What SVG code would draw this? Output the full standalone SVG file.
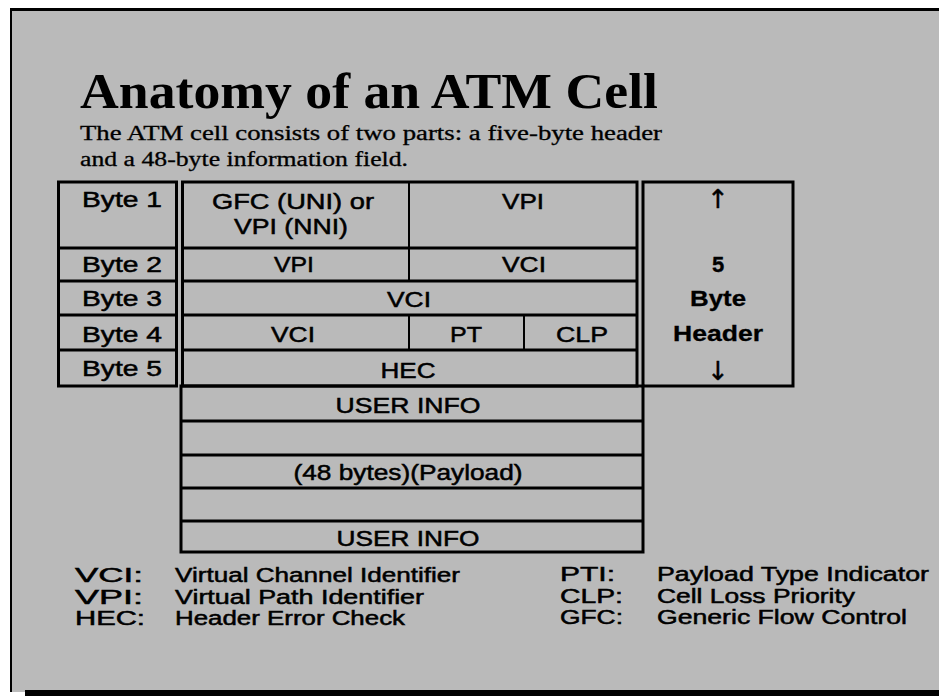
<svg xmlns="http://www.w3.org/2000/svg" width="939" height="696" viewBox="0 0 939 696">
<style>
.box{fill:none;stroke:#000;stroke-width:3}
.ln{stroke:#000;stroke-width:3}
.vl{stroke:#000;stroke-width:2}
.t{font-family:"Liberation Sans",Arial,sans-serif;font-size:22px;fill:#000;stroke:#000;stroke-width:0.5;text-anchor:middle}
.s{text-anchor:start}
.b{font-weight:bold;stroke-width:0.3}
.lg{font-family:"Liberation Sans",Arial,sans-serif;font-size:20px;fill:#000;stroke:#000;stroke-width:0.5}
.ti{font-family:"Liberation Serif","Times New Roman",serif;font-weight:bold;font-size:50px;fill:#000}
.sub{font-family:"Liberation Serif","Times New Roman",serif;font-size:20px;fill:#000;stroke:#000;stroke-width:0.3}
.ar{font-family:"DejaVu Sans",sans-serif;font-size:26px;fill:#000;stroke:#000;stroke-width:0.4;text-anchor:middle}
</style>
<rect width="939" height="696" fill="#fff"/>
<g id="frame">
<rect x="10" y="8" width="929" height="684" fill="#bababa"/>
<line x1="10" y1="9.5" x2="939" y2="9.5" class="ln"/>
<line x1="11" y1="8" x2="11" y2="692" class="vl"/>
<rect x="25" y="690" width="914" height="6" fill="#000"/>
</g>
<g id="title">
<text class="ti" x="80" y="108" textLength="578" lengthAdjust="spacingAndGlyphs">Anatomy of an ATM Cell</text>
<text class="sub" x="80" y="140" textLength="582" lengthAdjust="spacingAndGlyphs">The ATM cell consists of two parts: a five-byte header</text>
<text class="sub" x="80" y="166" textLength="328" lengthAdjust="spacingAndGlyphs">and a 48-byte information field.</text>
</g>
<g id="byte-column">
<rect x="58.5" y="182" width="118" height="204" class="box"/>
<line x1="58" y1="248" x2="176" y2="248" class="ln"/>
<line x1="58" y1="281" x2="176" y2="281" class="ln"/>
<line x1="58" y1="315" x2="176" y2="315" class="ln"/>
<line x1="58" y1="350" x2="176" y2="350" class="ln"/>
<text class="t s" x="82" y="207" textLength="80" lengthAdjust="spacingAndGlyphs">Byte 1</text>
<text class="t s" x="82" y="272" textLength="80" lengthAdjust="spacingAndGlyphs">Byte 2</text>
<text class="t s" x="82" y="306" textLength="80" lengthAdjust="spacingAndGlyphs">Byte 3</text>
<text class="t s" x="82" y="342" textLength="80" lengthAdjust="spacingAndGlyphs">Byte 4</text>
<text class="t s" x="82" y="376" textLength="80" lengthAdjust="spacingAndGlyphs">Byte 5</text>
</g>
<g id="header-fields">
<rect x="182.5" y="182" width="454.5" height="204" class="box"/>
<line x1="182" y1="248" x2="637" y2="248" class="ln"/>
<line x1="182" y1="281" x2="637" y2="281" class="ln"/>
<line x1="182" y1="315" x2="637" y2="315" class="ln"/>
<line x1="182" y1="350" x2="637" y2="350" class="ln"/>
<line x1="409" y1="182" x2="409" y2="281" class="vl"/>
<line x1="409" y1="315" x2="409" y2="350" class="vl"/>
<line x1="524" y1="315" x2="524" y2="350" class="vl"/>
<text class="t" x="293" y="209" textLength="162" lengthAdjust="spacingAndGlyphs">GFC (UNI) or</text>
<text class="t" x="291" y="234" textLength="114" lengthAdjust="spacingAndGlyphs">VPI (NNI)</text>
<text class="t" x="523" y="209" textLength="42" lengthAdjust="spacingAndGlyphs">VPI</text>
<text class="t" x="294" y="272" textLength="40" lengthAdjust="spacingAndGlyphs">VPI</text>
<text class="t" x="524" y="272" textLength="44" lengthAdjust="spacingAndGlyphs">VCI</text>
<text class="t" x="409" y="307" textLength="44" lengthAdjust="spacingAndGlyphs">VCI</text>
<text class="t" x="293" y="342" textLength="44" lengthAdjust="spacingAndGlyphs">VCI</text>
<text class="t" x="466" y="342" textLength="32" lengthAdjust="spacingAndGlyphs">PT</text>
<text class="t" x="582" y="342" textLength="52" lengthAdjust="spacingAndGlyphs">CLP</text>
<text class="t" x="408" y="378" textLength="55" lengthAdjust="spacingAndGlyphs">HEC</text>
</g>
<g id="header-label">
<rect x="643" y="182" width="150" height="204" class="box"/>
<text class="ar" x="718" y="208">↑</text>
<text class="t b" x="718" y="272">5</text>
<text class="t b" x="718" y="306" textLength="56" lengthAdjust="spacingAndGlyphs">Byte</text>
<text class="t b" x="718" y="341" textLength="90" lengthAdjust="spacingAndGlyphs">Header</text>
<text class="ar" x="718" y="380">↓</text>
</g>
<g id="payload">
<rect x="181" y="386" width="462" height="166" class="box"/>
<line x1="181" y1="421" x2="643" y2="421" class="ln"/>
<line x1="181" y1="455" x2="643" y2="455" class="ln"/>
<line x1="181" y1="488" x2="643" y2="488" class="ln"/>
<line x1="181" y1="521" x2="643" y2="521" class="ln"/>
<text class="t" x="408" y="413" textLength="145" lengthAdjust="spacingAndGlyphs">USER INFO</text>
<text class="t" x="408" y="480" textLength="229" lengthAdjust="spacingAndGlyphs">(48 bytes)(Payload)</text>
<text class="t" x="408" y="546" textLength="143" lengthAdjust="spacingAndGlyphs">USER INFO</text>
</g>
<g id="connectors"></g>
<g id="legend">
<text class="lg" x="75" y="582" textLength="68" lengthAdjust="spacingAndGlyphs">VCI:</text>
<text class="lg" x="175" y="582" textLength="285" lengthAdjust="spacingAndGlyphs">Virtual Channel Identifier</text>
<text class="lg" x="75" y="604" textLength="68" lengthAdjust="spacingAndGlyphs">VPI:</text>
<text class="lg" x="175" y="604" textLength="249" lengthAdjust="spacingAndGlyphs">Virtual Path Identifier</text>
<text class="lg" x="75" y="625" textLength="70" lengthAdjust="spacingAndGlyphs">HEC:</text>
<text class="lg" x="175" y="625" textLength="230" lengthAdjust="spacingAndGlyphs">Header Error Check</text>
<text class="lg" x="560" y="581" textLength="55" lengthAdjust="spacingAndGlyphs">PTI:</text>
<text class="lg" x="657" y="581" textLength="272" lengthAdjust="spacingAndGlyphs">Payload Type Indicator</text>
<text class="lg" x="560" y="603" textLength="63" lengthAdjust="spacingAndGlyphs">CLP:</text>
<text class="lg" x="657" y="603" textLength="198" lengthAdjust="spacingAndGlyphs">Cell Loss Priority</text>
<text class="lg" x="560" y="624" textLength="63" lengthAdjust="spacingAndGlyphs">GFC:</text>
<text class="lg" x="657" y="624" textLength="250" lengthAdjust="spacingAndGlyphs">Generic Flow Control</text>
</g>
</svg>
